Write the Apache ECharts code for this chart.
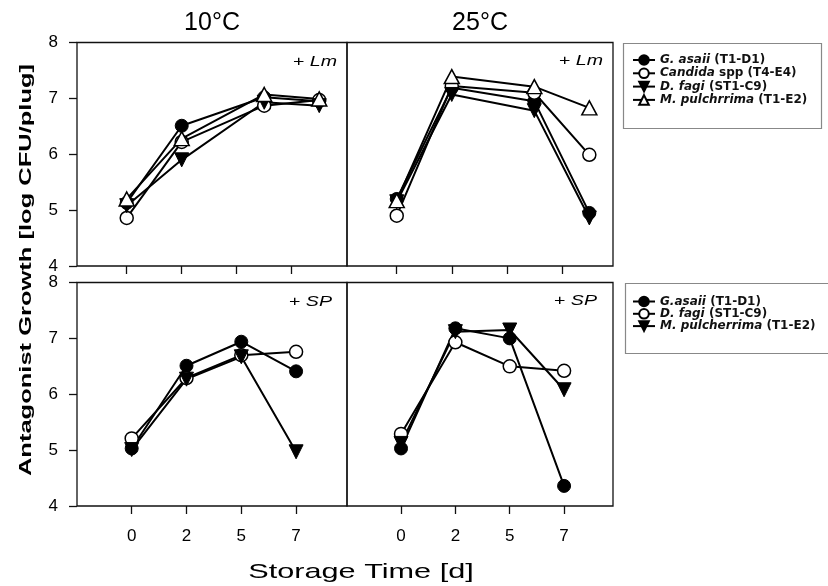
<!DOCTYPE html>
<html><head><meta charset="utf-8">
<script src="https://cdn.jsdelivr.net/npm/echarts@6/dist/echarts.min.js"></script>
<style>html,body{margin:0;padding:0;background:#fff}#c{width:828px;height:586px}</style>
</head><body><div id="c"></div>
<script>
// ---- data ----
const tickLabels = ['0', '2', '5', '7'];
const tickPos = [0, 1, 2, 3];
const xTop = [0, 1, 2.5, 3.5];
const xBottom = [0, 1, 2, 3];

// + Lm, 10 °C
const lm10_gasaii = [5.13, 6.51, 7.02, 6.95];
const lm10_candida = [4.86, 6.22, 6.87, 6.97];
const lm10_dfagi = [5.08, 5.90, 6.93, 6.87];
const lm10_mpul = [5.20, 6.28, 7.07, 6.99];
// + Lm, 25 °C
const lm25_gasaii = [5.20, 7.19, 6.95, 4.95];
const lm25_candida = [4.90, 7.22, 7.10, 5.99];
const lm25_dfagi = [5.15, 7.07, 6.78, 4.86];
const lm25_mpul = [5.17, 7.39, 7.21, 6.83];
// + SP, 10 °C
const sp10_gasaii = [5.03, 6.51, 6.94, 6.41];
const sp10_dfagi = [5.21, 6.29, 6.70, 6.76];
const sp10_mpul = [5.01, 6.27, 6.67, 4.97];
// + SP, 25 °C
const sp25_gasaii = [5.03, 7.18, 7.00, 4.36];
const sp25_dfagi = [5.29, 6.93, 6.50, 6.42];
const sp25_mpul = [5.12, 7.12, 7.15, 6.08];

const namesTop = ['G. asaii (T1-D1)', 'Candida spp (T4-E4)', 'D. fagi (ST1-C9)', 'M. pulchrrima (T1-E2)'];
const namesBottom = ['G.asaii (T1-D1)', 'D. fagi (ST1-C9) ', 'M. pulcherrima (T1-E2)'];
const italicPart = {
  'G. asaii (T1-D1)': 'G. asaii', 'Candida spp (T4-E4)': 'Candida', 'D. fagi (ST1-C9)': 'D. fagi',
  'M. pulchrrima (T1-E2)': 'M. pulchrrima', 'G.asaii (T1-D1)': 'G.asaii', 'M. pulcherrima (T1-E2)': 'M. pulcherrima'
};

// ---- styles ----
const FONT = '"Liberation Sans", Arial, sans-serif';
const filledCircle = { symbol: 'circle', symbolSize: 13, itemStyle: { color: '#000', borderColor: '#000', borderWidth: 1 } };
const openCircle = { symbol: 'circle', symbolSize: 13, itemStyle: { color: '#fff', borderColor: '#000', borderWidth: 1.5 } };
const downTri = { symbol: 'triangle', symbolSize: 14, symbolRotate: 180, itemStyle: { color: '#000', borderColor: '#000', borderWidth: 1 } };
const openTri = { symbol: 'triangle', symbolSize: [15, 14], itemStyle: { color: '#fff', borderColor: '#000', borderWidth: 1.5 } };

function mk(name, xs, ys, gi, st) {
  return Object.assign({
    type: 'line', name: name, xAxisIndex: gi, yAxisIndex: gi,
    data: xs.map((x, i) => [x, ys[i]]),
    lineStyle: { color: '#000', width: 2 },
    emphasis: { disabled: true }, animation: false
  }, JSON.parse(JSON.stringify(st)));
}

const series = [
  mk(namesTop[0], xTop, lm10_gasaii, 0, filledCircle),
  mk(namesTop[1], xTop, lm10_candida, 0, openCircle),
  mk(namesTop[2], xTop, lm10_dfagi, 0, downTri),
  mk(namesTop[3], xTop, lm10_mpul, 0, openTri),
  mk(namesTop[0], xTop, lm25_gasaii, 1, filledCircle),
  mk(namesTop[1], xTop, lm25_candida, 1, openCircle),
  mk(namesTop[2], xTop, lm25_dfagi, 1, downTri),
  mk(namesTop[3], xTop, lm25_mpul, 1, openTri),
  mk(namesBottom[0], xBottom, sp10_gasaii, 2, filledCircle),
  mk(namesBottom[1], xBottom, sp10_dfagi, 2, openCircle),
  mk(namesBottom[2], xBottom, sp10_mpul, 2, downTri),
  mk(namesBottom[0], xBottom, sp25_gasaii, 3, filledCircle),
  mk(namesBottom[1], xBottom, sp25_dfagi, 3, openCircle),
  mk(namesBottom[2], xBottom, sp25_mpul, 3, downTri)
];

const grids = [
  { left: 77, top: 42.5, width: 270, height: 223.5 },
  { left: 347, top: 42.5, width: 266, height: 223.5 },
  { left: 77, top: 282.5, width: 270, height: 223.5 },
  { left: 347, top: 282.5, width: 266, height: 223.5 }
].map(g => Object.assign(g, { show: true, borderColor: '#111', borderWidth: 1.3, backgroundColor: 'transparent', containLabel: false, outerBoundsMode: 'none' }));

const xRanges = [[-0.904, 4.005], [-0.904, 3.93], [-0.998, 3.929], [-0.994, 3.90]];
const xAxes = xRanges.map((r, i) => ({
  type: 'value', gridIndex: i, min: r[0], max: r[1], position: 'bottom',
  axisLine: { show: false, onZero: false }, splitLine: { show: false },
  axisTick: { show: true, customValues: tickPos, length: 8, lineStyle: { color: '#111', width: 1.3 } },
  axisLabel: {
    show: i >= 2, customValues: tickPos, margin: 22, fontSize: 17, color: '#000', fontFamily: FONT,
    formatter: v => tickLabels[Math.round(v)]
  }
}));
const yAxes = [0, 1, 2, 3].map(i => ({
  type: 'value', gridIndex: i, min: 4, max: 8, interval: 1, position: 'left',
  axisLine: { show: false, onZero: false }, splitLine: { show: false },
  axisTick: { show: i % 2 === 0, length: 8, lineStyle: { color: '#111', width: 1.3 } },
  axisLabel: { show: i % 2 === 0, margin: 19, fontSize: 17, color: '#000', fontFamily: FONT }
}));

function legendFmt(name) {
  const key = name.trim();
  const it = italicPart[key];
  const rest = key.slice(it.length);
  return '{i|' + it + '}' + rest;
}
const LFONT = '"DejaVu Sans", sans-serif';
const legendText = {
  color: '#111', fontSize: 12, fontWeight: 'bold', fontFamily: LFONT,
  rich: { i: { fontStyle: 'italic', fontWeight: 'bold', fontSize: 12, fontFamily: LFONT, color: '#111' } }
};

const option = {
  backgroundColor: '#fff',
  animation: false,
  title: [
    { text: '10°C', left: 212, top: 11, textAlign: 'center', padding: 0, textStyle: { fontSize: 25, fontWeight: 'normal', color: '#000', fontFamily: FONT } },
    { text: '25°C', left: 480, top: 11, textAlign: 'center', padding: 0, textStyle: { fontSize: 25, fontWeight: 'normal', color: '#000', fontFamily: FONT } }
  ],
  grid: grids,
  xAxis: xAxes,
  yAxis: yAxes,
  legend: [
    { data: namesTop, orient: 'vertical', left: 632, top: 54, padding: 0, itemWidth: 22, itemHeight: 12, itemGap: 1.3,
      formatter: legendFmt, textStyle: legendText, selectedMode: false },
    { data: namesBottom, orient: 'vertical', left: 632, top: 295.5, padding: 0, itemWidth: 22, itemHeight: 12, itemGap: 0.3,
      formatter: legendFmt, textStyle: legendText, selectedMode: false }
  ],
  graphic: [
    { type: 'rect', shape: { x: 623.5, y: 43.5, width: 198, height: 85 }, style: { fill: 'none', stroke: '#888', lineWidth: 1.2 }, silent: true },
    { type: 'rect', shape: { x: 625.5, y: 283.5, width: 210, height: 70 }, style: { fill: 'none', stroke: '#888', lineWidth: 1.2 }, silent: true },
    { type: 'text', x: 337, y: 62, scaleX: 1.4, style: { text: '+ {i|Lm}', textAlign: 'right', textVerticalAlign: 'middle', font: '14px ' + FONT, fill: '#000', rich: { i: { fontStyle: 'italic', fontSize: 14, fontFamily: FONT } } } },
    { type: 'text', x: 603, y: 61, scaleX: 1.4, style: { text: '+ {i|Lm}', textAlign: 'right', textVerticalAlign: 'middle', font: '14px ' + FONT, fill: '#000', rich: { i: { fontStyle: 'italic', fontSize: 14, fontFamily: FONT } } } },
    { type: 'text', x: 332, y: 302, scaleX: 1.4, style: { text: '+ {i|SP}', textAlign: 'right', textVerticalAlign: 'middle', font: '14px ' + FONT, fill: '#000', rich: { i: { fontStyle: 'italic', fontSize: 14, fontFamily: FONT } } } },
    { type: 'text', x: 597, y: 301, scaleX: 1.4, style: { text: '+ {i|SP}', textAlign: 'right', textVerticalAlign: 'middle', font: '14px ' + FONT, fill: '#000', rich: { i: { fontStyle: 'italic', fontSize: 14, fontFamily: FONT } } } },
    { type: 'text', x: 361, y: 572, scaleX: 1.46, style: { text: 'Storage Time [d]', textAlign: 'center', textVerticalAlign: 'middle', font: '21px ' + FONT, fill: '#000' } },
    { type: 'text', x: 26, y: 270, rotation: Math.PI / 2, scaleX: 1.5, style: { text: 'Antagonist Growth [log CFU/plug]', textAlign: 'center', textVerticalAlign: 'middle', font: 'bold 17px ' + FONT, fill: '#000' } }
  ],
  series: series
};

const chart = echarts.init(document.getElementById('c'), null, { renderer: 'canvas' });
chart.setOption(option);
</script>
</body></html>
